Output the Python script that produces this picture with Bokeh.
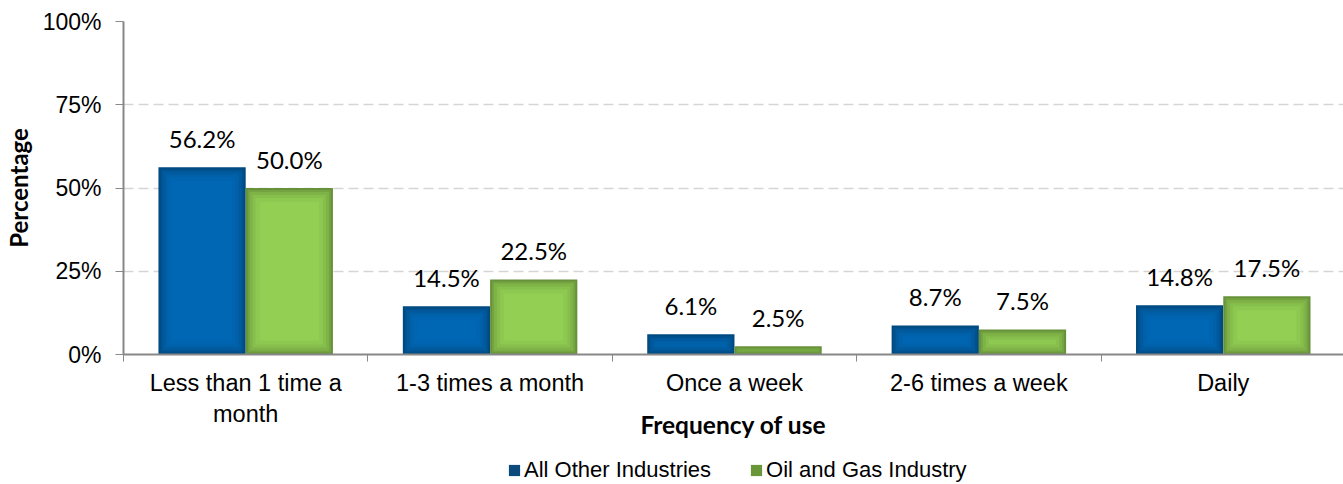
from bokeh.plotting import figure
from bokeh.layouts import column
from bokeh.models import Range1d, FixedTicker, Legend, LegendItem, ColumnDataSource, LinearAxis
from bokeh.embed import file_html
from bokeh.resources import INLINE
from bokeh.core.properties import value

categories = ["Less than 1 time a\nmonth", "1-3 times a month", "Once a week", "2-6 times a week", "Daily"]
series_names = ["All Other Industries", "Oil and Gas Industry"]
all_other = [56.2, 14.5, 6.1, 8.7, 14.8]
oil_gas = [50.0, 22.5, 2.5, 7.5, 17.5]
y_ticks = [0, 25, 50, 75, 100]
y_tick_labels = ["0%", "25%", "50%", "75%", "100%"]

# shading layers (edge -> centre) for the soft inner glow of the bars
blue_shades = ["#004a80", "#00528f", "#005a9d", "#0060a8", "#0064b0", "#0067b5"]
green_shades = ["#67923a", "#74a442", "#7fb348", "#87bf4d", "#8dc850", "#92cf53"]
insets_px = [0, 2, 4, 7, 10, 14]
legend_colors = ["#0d4a7c", "#6a963a"]

W, H_MAIN, H_LEG = 1343, 455, 29
LEFT, TOP, BOTTOM = 122, 21, 101
X_END = 4.992
frame_w = W - LEFT
frame_h = H_MAIN - TOP - BOTTOM
px_x = frame_w / X_END
px_y = frame_h / 100.0

p = figure(width=W, height=H_MAIN, output_backend="svg", toolbar_location=None,
           x_range=Range1d(0, X_END), y_range=Range1d(0, 100),
           min_border_left=LEFT, min_border_right=0, min_border_top=TOP, min_border_bottom=BOTTOM,
           x_axis_type=None)
p.outline_line_color = None
p.background_fill_color = "white"

n = len(categories)
centers = [i + 0.5 for i in range(n)]
bw = 0.357
offs = [-0.1785, 0.1785]
for k, (vals, shades) in enumerate([(all_other, blue_shades), (oil_gas, green_shades)]):
    xs = [c + offs[k] for c in centers]
    for j, d in enumerate(insets_px):
        dy = d / px_y
        tops = [max(v - dy, v / 2.0) for v in vals]
        bots = [min(dy, v / 2.0) for v in vals]
        src = ColumnDataSource(dict(x=xs, top=tops, bottom=bots))
        p.vbar(x="x", top="top", bottom="bottom", width=bw - 2 * d / px_x, source=src,
               fill_color=shades[j], line_color=None)
    src = ColumnDataSource(dict(x=xs, top=vals, lbl=["%.1f%%" % v for v in vals]))
    p.text(x="x", y="top", text="lbl", source=src, text_align="center", text_baseline="alphabetic",
           y_offset=-29, text_font=value("Lato"), text_font_size="24px", text_color="#000000")

# x axis
xaxis = LinearAxis(ticker=FixedTicker(ticks=centers, minor_ticks=[0, 1, 2, 3, 4, 5]))
xaxis.major_label_overrides = {c: categories[i] for i, c in enumerate(centers)}
xaxis.major_tick_line_color = None
xaxis.major_tick_out = 6
xaxis.minor_tick_out = 7
xaxis.minor_tick_in = 0
xaxis.minor_tick_line_color = "#888888"
xaxis.axis_line_color = "#888888"
xaxis.axis_line_width = 2
xaxis.major_label_text_font = "Liberation Sans"
xaxis.major_label_text_font_size = "23.5px"
xaxis.major_label_text_color = "#000000"
xaxis.major_label_standoff = 8
xaxis.axis_label = "Frequency of use"
xaxis.axis_label_text_font = "Lato"
xaxis.axis_label_text_font_style = "bold"
xaxis.axis_label_text_font_size = "24.5px"
xaxis.axis_label_text_color = "#000000"
xaxis.axis_label_standoff = -20
p.add_layout(xaxis, "below")

yaxis = p.yaxis[0]
yaxis.ticker = FixedTicker(ticks=y_ticks, minor_ticks=[])
yaxis.major_label_overrides = {t: y_tick_labels[i] for i, t in enumerate(y_ticks)}
yaxis.major_tick_out = 8
yaxis.major_tick_in = 0
yaxis.major_tick_line_color = "#888888"
yaxis.axis_line_color = "#888888"
yaxis.axis_line_width = 2
yaxis.major_label_text_font = "Liberation Sans"
yaxis.major_label_text_font_size = "23px"
yaxis.major_label_text_color = "#000000"
yaxis.major_label_standoff = 14
yaxis.axis_label = "Percentage"
yaxis.axis_label_text_font = "Lato"
yaxis.axis_label_text_font_style = "bold"
yaxis.axis_label_text_font_size = "24px"
yaxis.axis_label_text_color = "#000000"
yaxis.axis_label_standoff = 7

p.xgrid.visible = False
p.ygrid.ticker = FixedTicker(ticks=[25, 50, 75, 100])
p.ygrid.grid_line_color = "#d5d5d5"
p.ygrid.grid_line_dash = "10 5"
p.ygrid.grid_line_width = 1.5

# legend strip
lg = figure(width=W, height=H_LEG, output_backend="svg", toolbar_location=None,
            x_range=Range1d(0, 1), y_range=Range1d(0, 1),
            min_border_left=0, min_border_right=0, min_border_top=0, min_border_bottom=0,
            x_axis_type=None, y_axis_type=None)
lg.outline_line_color = None
lg.xgrid.visible = False
lg.ygrid.visible = False
items = []
for k in range(2):
    r = lg.vbar(x=[-10], top=[-10], bottom=[-11], width=0.1, fill_color=legend_colors[k], line_color=None)
    items.append(LegendItem(label=series_names[k], renderers=[r]))
legend = Legend(items=items, orientation="horizontal", location=(384, 1),
                label_text_font="Liberation Sans", label_text_font_size="22px",
                label_text_color="#000000", border_line_color=None, background_fill_alpha=0,
                spacing=38, glyph_width=14, glyph_height=14, label_standoff=3, padding=0, margin=0)
lg.add_layout(legend, "center")

layout = column(p, lg, spacing=0)
open("out.html", "w").write(file_html(layout, INLINE))
